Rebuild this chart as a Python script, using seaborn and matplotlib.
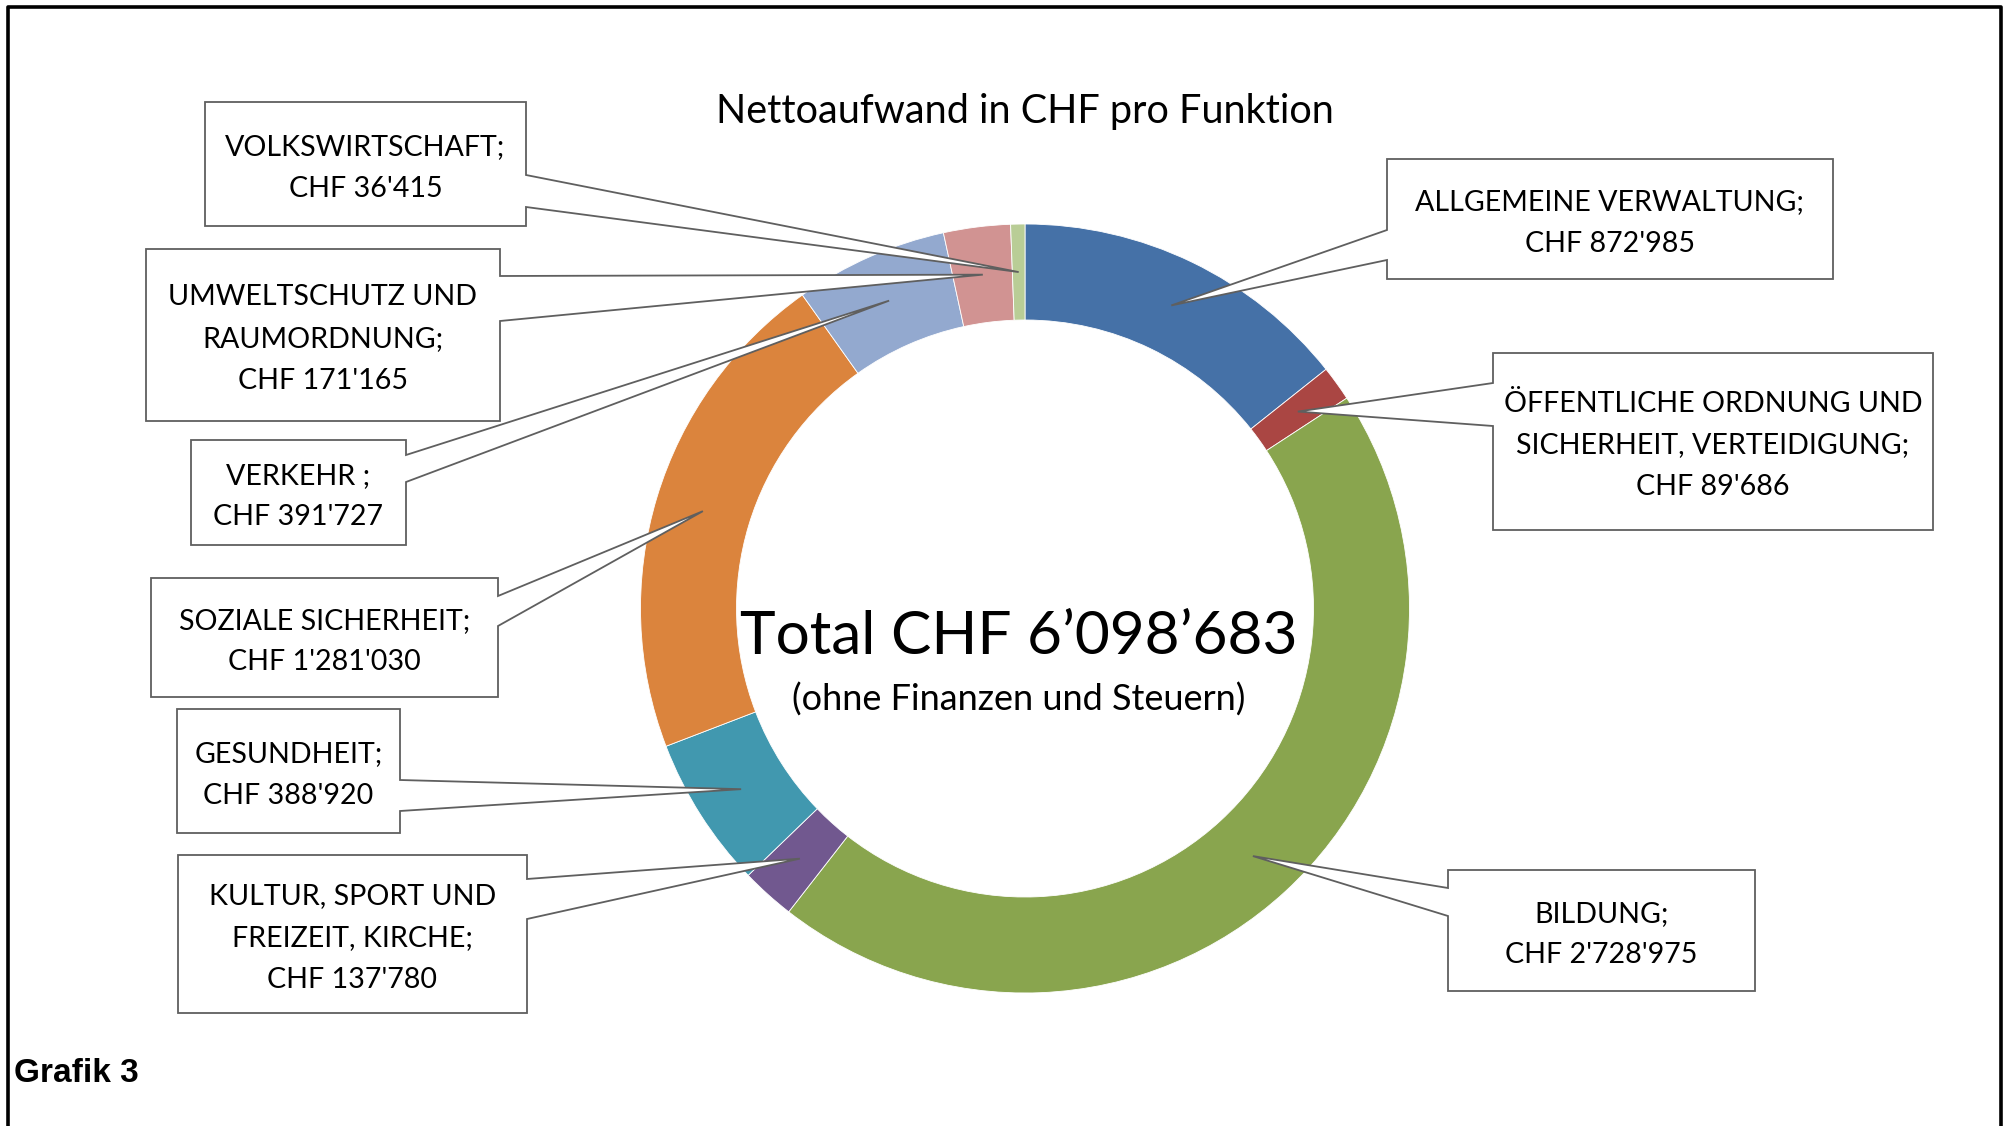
import matplotlib
matplotlib.use("Agg")
import numpy as np
import matplotlib.pyplot as plt
from matplotlib.patches import Polygon
from matplotlib.lines import Line2D
import seaborn as sns

sns.set_theme(style="white")
plt.rcParams['font.family'] = ['Lato', 'DejaVu Sans']

# data, clockwise from 12 o'clock
categories = ["ALLGEMEINE VERWALTUNG",
              "ÖFFENTLICHE ORDNUNG UND\nSICHERHEIT, VERTEIDIGUNG",
              "BILDUNG",
              "KULTUR, SPORT UND\nFREIZEIT, KIRCHE",
              "GESUNDHEIT",
              "SOZIALE SICHERHEIT",
              "VERKEHR ",
              "UMWELTSCHUTZ UND\nRAUMORDNUNG",
              "VOLKSWIRTSCHAFT"]
values = [872985, 89686, 2728975, 137780, 388920, 1281030, 391727, 171165, 36415]
colors = ["#4571a7", "#aa4643", "#89a54e", "#71588f", "#4198af",
          "#db843d", "#93a9cf", "#d19392", "#b9cd96"]
title = "Nettoaufwand in CHF pro Funktion"
subtitle = "(ohne Finanzen und Steuern)"
caption = "Grafik 3"

W, H = 2006, 1126

# callout boxes in image pixels: left, top, right, bottom, pointer side, pointer base y1, y2
boxes = [
    (1387, 159, 1833, 279, 'left', 230, 260),
    (1493, 353, 1933, 530, 'left', 383, 426),
    (1448, 870, 1755, 991, 'left', 888, 916),
    (178, 855, 527, 1013, 'right', 879, 919),
    (177, 709, 400, 833, 'right', 780, 811),
    (151, 578, 498, 697, 'right', 596, 626),
    (191, 440, 406, 545, 'right', 455, 482),
    (146, 249, 500, 421, 'right', 276, 321),
    (205, 102, 526, 226, 'right', 175, 207),
]

def fmt(v, sep="'"):
    return f"{v:,}".replace(",", sep)

fig = plt.figure(figsize=(W / 100, H / 100), dpi=100)
ax = fig.add_axes([0, 0, 1, 1])

cx, cy, R = 1025, H - 608.5, 384.5
ring = 96
palette = sns.color_palette(colors)
wedges, _ = ax.pie(values, colors=palette, startangle=90, counterclock=False,
                   radius=R, center=(cx, cy),
                   wedgeprops=dict(width=ring, edgecolor="white", linewidth=0.6))
ax.set_xlim(0, W)
ax.set_ylim(0, H)
ax.axis("off")

line_col = "#5f5f5f"
for w, cat, val, (l, t, r, b, side, b1, b2) in zip(wedges, categories, values, boxes):
    ang = np.deg2rad((w.theta1 + w.theta2) / 2)
    rr = R - ring / 2
    tip = (cx + rr * np.cos(ang), cy + rr * np.sin(ang))
    if side == 'right':
        pts = [(l, t), (r, t), (r, b1), None, (r, b2), (r, b), (l, b)]
    else:
        pts = [(l, t), (r, t), (r, b), (l, b), (l, b2), None, (l, b1)]
    verts = [tip if p is None else (p[0], H - p[1]) for p in pts]
    ax.add_patch(Polygon(verts, closed=True, facecolor="white",
                         edgecolor=line_col, linewidth=1.3, zorder=5))
    ax.text((l + r) / 2, H - (t + b) / 2 - 4, f"{cat};\nCHF {fmt(val)}",
            ha="center", va="center", fontsize=20.6, linespacing=1.74,
            color="black", zorder=6)

ax.text(1025, H - 123, title, ha="center", va="baseline", fontsize=28.5, color="black")
ax.text(1019, H - 654, f"Total CHF {fmt(sum(values), '’')}", ha="center",
        va="baseline", fontsize=43.5, color="black")
ax.text(1019, H - 711, subtitle, ha="center", va="baseline", fontsize=26, color="black")

fig.text(14 / W, (H - 1082) / H, caption, fontsize=24, fontweight="bold",
         family=["Liberation Sans", "DejaVu Sans"], color="black")

# outer frame (bottom edge cut off)
fig.add_artist(Line2D([8.5 / W, 8.5 / W, 2001 / W, 2001 / W],
                      [-0.01, (H - 7) / H, (H - 7) / H, -0.01],
                      transform=fig.transFigure, color="black", linewidth=2.6))

fig.savefig("out.png", dpi=100, facecolor="white")
